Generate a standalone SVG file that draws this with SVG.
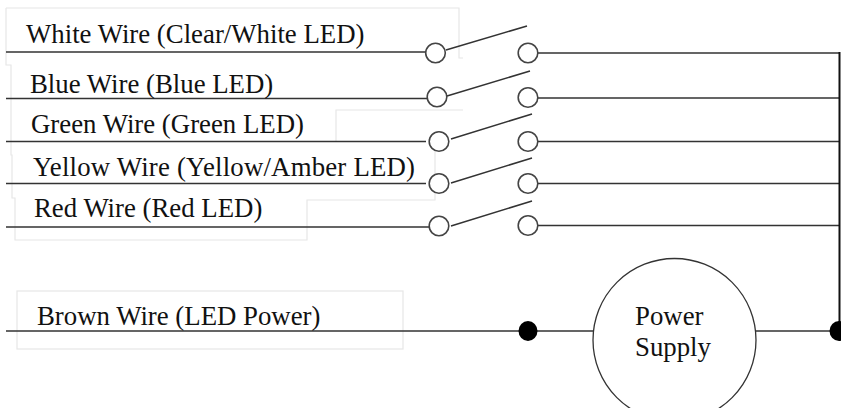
<svg xmlns="http://www.w3.org/2000/svg" width="841" height="408" viewBox="0 0 841 408">
<style>
.ghost{fill:none;stroke:#e6e6e6;stroke-width:1.2}
.w{fill:none;stroke:#333;stroke-width:1.5}
.o{fill:#fff;stroke:#444;stroke-width:1.6}
.d{fill:#000}
text{font-family:"Liberation Serif","Times New Roman",serif;font-size:26.8px;fill:#111}
</style>
<rect width="841" height="408" fill="#fff"/>
<g id="ghost-outlines">
<path class="ghost" d="M6 8H459V58H463M6 8V65H11V155H12V198H15V240H307V200H435V150M336 141V110H463"/>
<rect class="ghost" x="17" y="291" width="386" height="58"/>
</g>
<g id="connectors">
<path class="w" d="M6 52H426M6 98.500H428M6 141.500H426M6 183.500H426M6 227H430"/>
<path class="w" d="M538 53H839M538 98H839M538 141.500H839M538 183.500H839M538 225.500H839"/>
<path class="w" d="M446 50L527 26M447 96L530 71M451 139L532 114M451 183L532 158M451 226L532 201"/>
<path d="M839.500 52V331" fill="none" stroke="#111" stroke-width="2"/>
<path class="w" d="M6 331H594M756 331H838"/>
</g>
<g id="switch-1"><circle class="o" cx="435.500" cy="53" r="9.800"/><circle class="o" cx="528" cy="53" r="9.800"/><text x="26" y="42.500">White Wire (Clear/White LED)</text></g>
<g id="switch-2"><circle class="o" cx="437" cy="97" r="9.800"/><circle class="o" cx="528" cy="97.500" r="9.800"/><text x="30" y="92.500">Blue Wire (Blue LED)</text></g>
<g id="switch-3"><circle class="o" cx="439" cy="141.500" r="9.800"/><circle class="o" cx="528" cy="141.500" r="9.800"/><text x="31" y="132.500">Green Wire (Green LED)</text></g>
<g id="switch-4"><circle class="o" cx="439" cy="183.500" r="9.800"/><circle class="o" cx="528" cy="183.500" r="9.800"/><text x="33" y="175.500" textLength="382">Yellow Wire (Yellow/Amber LED)</text></g>
<g id="switch-5"><circle class="o" cx="439" cy="226" r="9.800"/><circle class="o" cx="528" cy="225.500" r="9.800"/><text x="34" y="217">Red Wire (Red LED)</text></g>
<g id="brown-wire"><text x="37" y="325">Brown Wire (LED Power)</text></g>
<g id="junction-1"><ellipse class="d" cx="528" cy="331" rx="9.500" ry="10"/></g>
<g id="junction-2"><ellipse class="d" cx="839" cy="331" rx="9.500" ry="10"/></g>
<g id="power-supply"><circle cx="674.500" cy="340" r="81.500" fill="#fff" stroke="#333" stroke-width="1.300"/><text x="635" y="325">Power</text><text x="635" y="356">Supply</text></g>
</svg>
